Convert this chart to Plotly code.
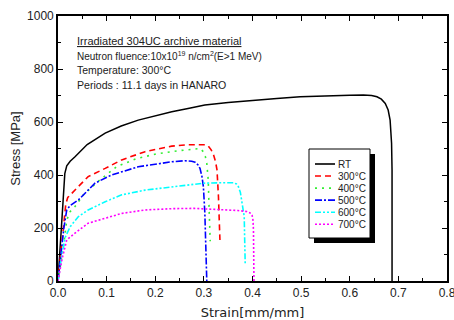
import plotly.graph_objects as go

# ---------------- data ----------------
rt_x = [0, 0.005, 0.010, 0.014, 0.018, 0.025, 0.035, 0.06, 0.097, 0.13, 0.165, 0.2, 0.234, 0.27, 0.302, 0.35,
        0.405, 0.45, 0.498, 0.55, 0.6, 0.628, 0.645, 0.656, 0.665, 0.673, 0.679, 0.683, 0.686, 0.687, 0.687]
rt_y = [0, 140, 290, 405, 435, 452, 469, 515, 558, 585, 607, 624, 639, 652, 664, 674,
        683, 689, 695, 699, 701, 702, 700, 695, 686, 670, 645, 607, 520, 420, 0]

t300_x = [0, 0.006, 0.012, 0.016, 0.02, 0.035, 0.062, 0.097, 0.131, 0.179, 0.234, 0.265, 0.292, 0.303,
          0.309, 0.315, 0.320, 0.324, 0.327, 0.330, 0.333]
t300_y = [0, 110, 230, 290, 315, 343, 394, 425, 457, 488, 509, 514, 516, 514, 509, 495, 475, 450, 419, 318, 155]

t400_x = [0, 0.006, 0.012, 0.018, 0.025, 0.035, 0.052, 0.086, 0.121, 0.162, 0.203, 0.25, 0.28, 0.292,
          0.299, 0.303, 0.306, 0.309, 0.311, 0.313]
t400_y = [0, 70, 140, 230, 262, 281, 325, 381, 432, 462, 480, 492, 499, 500, 488, 470, 444, 381, 260, 150]

t500_x = [0, 0.006, 0.012, 0.018, 0.025, 0.042, 0.076, 0.110, 0.165, 0.234, 0.261, 0.275, 0.282, 0.288,
          0.292, 0.296, 0.299, 0.302, 0.304, 0.306, 0.306]
t500_y = [0, 100, 200, 268, 285, 306, 369, 400, 431, 450, 454, 452, 448, 438, 425, 395, 356, 256, 130, 20, 0]

t600_x = [0, 0.008, 0.015, 0.025, 0.042, 0.062, 0.097, 0.131, 0.179, 0.234, 0.299, 0.34, 0.361, 0.367,
          0.371, 0.375, 0.378, 0.381, 0.383, 0.384, 0.385]
t600_y = [0, 100, 165, 205, 243, 268, 299, 325, 343, 356, 369, 371, 371, 366, 356, 335, 306, 275, 243, 150, 65]

t700_x = [0, 0.008, 0.018, 0.035, 0.062, 0.097, 0.131, 0.179, 0.234, 0.28, 0.333, 0.37, 0.388, 0.395,
          0.399, 0.401, 0.402, 0.403, 0.403]
t700_y = [0, 80, 155, 181, 218, 237, 255, 268, 273, 274, 270, 266, 262, 257, 249, 230, 192, 80, 0]

series_names = ["RT", "300°C", "400°C", "500°C", "600°C", "700°C"]
series_x = [rt_x, t300_x, t400_x, t500_x, t600_x, t700_x]
series_y = [rt_y, t300_y, t400_y, t500_y, t600_y, t700_y]

note_lines = [
    "<u>Irradiated 304UC archive material</u>",
    "Neutron fluence:10x10<sup>19</sup> n/cm<sup>2</sup>(E>1 MeV)",
    "Temperature: 300°C",
    "Periods : 11.1 days in HANARO",
]

# ---------------- styles ----------------
colors = ["#000000", "#FF0000", "#33EE33", "#0000FF", "#00FFFF", "#FF00FF"]
dashes = ["solid", "6px,4px", "2px,5px", "7px,2px,2px,2px", "6px,2px,2px,2px,2px,2px", "2px,2px"]
widths = [1.5, 1.6, 1.6, 1.6, 1.6, 1.6]
note_sizes = [11.0, 10.0, 10.5, 10.6]

FONT = "Arial, Liberation Sans, sans-serif"
WIDE = "DejaVu Sans, sans-serif"
W, H = 454, 320
L, R, T, B = 58, 7, 16, 39
PW, PH = W - L - R, H - T - B


def px(xp):
    return (xp - L) / PW


def py(yp):
    return (H - B - yp) / PH


fig = go.Figure()
for name, xs, ys, c, d, w in zip(series_names, series_x, series_y, colors, dashes, widths):
    fig.add_trace(go.Scatter(x=xs, y=ys, mode="lines", name=name,
                             line=dict(color=c, dash=d, width=w), showlegend=False))

shapes = []
annotations = []

# legend shadow and box
shapes.append(dict(type="rect", xref="paper", yref="paper", x0=px(314), x1=px(375), y0=py(243), y1=py(154),
                   fillcolor="black", line=dict(width=0), layer="above"))
shapes.append(dict(type="rect", xref="paper", yref="paper", x0=px(309), x1=px(370), y0=py(238), y1=py(149),
                   fillcolor="white", line=dict(color="black", width=1), layer="above"))
for i, (name, c, d) in enumerate(zip(series_names, colors, dashes)):
    yc = 164 + i * 12.05
    shapes.append(dict(type="line", xref="paper", yref="paper", x0=px(315), x1=px(335), y0=py(yc), y1=py(yc),
                       line=dict(color=c, dash=d, width=1.6), layer="above"))
    annotations.append(dict(xref="paper", yref="paper", x=px(336), y=py(yc), text=name, showarrow=False,
                            xanchor="left", yanchor="middle", font=dict(family=FONT, size=10, color="#222")))

for i, (t, s) in enumerate(zip(note_lines, note_sizes)):
    annotations.append(dict(xref="paper", yref="paper", x=px(75), y=py(41 + i * 14.7), text=t, showarrow=False,
                            xanchor="left", yanchor="middle", font=dict(family=FONT, size=s, color="#222")))

fig.update_layout(
    width=W, height=H,
    margin=dict(l=L, r=R, t=T, b=B),
    paper_bgcolor="white", plot_bgcolor="white",
    showlegend=False,
    shapes=shapes, annotations=annotations,
    font=dict(family=FONT, size=12, color="#222"),
)
fig.update_xaxes(range=[0, 0.8], dtick=0.1, tickformat=".1f", showgrid=False, zeroline=False,
                 automargin=False, ticklabeloverflow="allow",
                 showline=True, linecolor="black", linewidth=1.6, mirror="allticks",
                 ticks="inside", ticklen=5, tickwidth=1.2, tickcolor="black",
                 minor=dict(ticks="inside", ticklen=3, dtick=0.05, tickcolor="black", tickwidth=1.2),
                 title=dict(text="Strain[mm/mm]", font=dict(family=WIDE, size=13, color="#222"), standoff=9),
                 tickfont=dict(family=FONT, size=12))
fig.update_yaxes(range=[0, 1000], dtick=200, showgrid=False, zeroline=False,
                 automargin=False, ticklabeloverflow="allow",
                 showline=True, linecolor="black", linewidth=1.6, mirror="allticks",
                 ticks="inside", ticklen=5, tickwidth=1.2, tickcolor="black",
                 minor=dict(ticks="inside", ticklen=3, dtick=100, tickcolor="black", tickwidth=1.2),
                 title=dict(text="Stress [MPa]", font=dict(family=FONT, size=13, color="#222"), standoff=4),
                 tickfont=dict(family=FONT, size=12))

fig.write_html("out.html")
